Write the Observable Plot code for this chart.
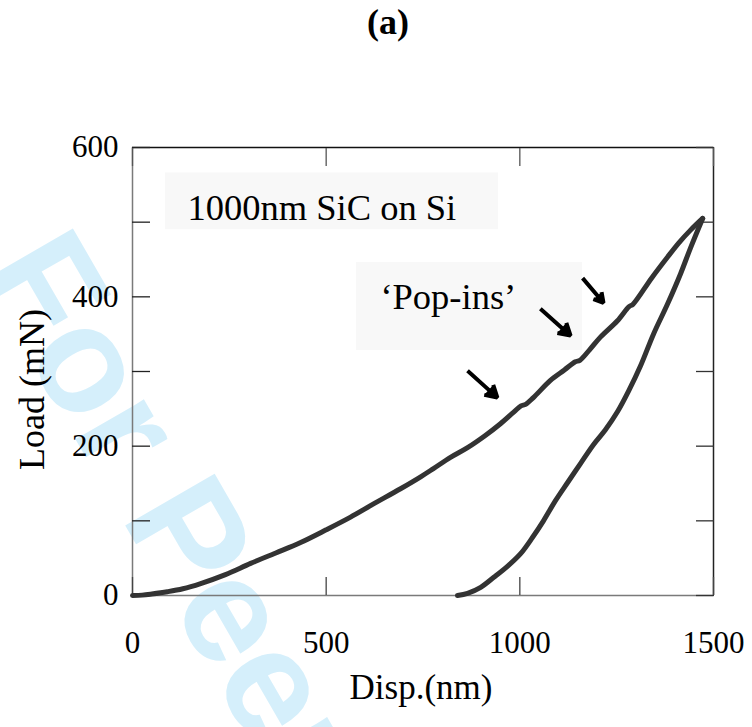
<!DOCTYPE html>
<html><head><meta charset="utf-8">
<script src="https://cdn.jsdelivr.net/npm/d3@7"></script>
<script src="https://cdn.jsdelivr.net/npm/@observablehq/plot@0.6"></script>
<style>
body{margin:0;background:#fff;}
#wrap{position:relative;width:752px;height:727px;overflow:hidden;}
#title{position:absolute;left:367px;top:4px;font:bold 36px "Liberation Serif","Times New Roman",serif;line-height:1;}
</style></head><body><div id="wrap"><div id="title">(a)</div></div>
<script>
// Loading branch (displacement nm, load mN)
const loadDisp = [0, 25, 50, 90, 130, 176, 240, 305, 370, 434, 500, 563, 620, 692, 744, 777, 821, 865, 910, 950, 985, 1003, 1015, 1035, 1079, 1115, 1143, 1155, 1180, 1208, 1252, 1282, 1292, 1340, 1381, 1410, 1440, 1472];
const loadLoad = [0, 0.5, 2, 5, 9, 16, 28, 43, 57, 71, 88, 105, 122, 143, 159, 170, 185, 198, 214, 230, 246, 254, 256, 265, 288, 302, 313, 315, 329, 346, 368, 387, 390, 425, 453, 472, 489, 505];
// Unloading branch
const unloadDisp = [1472, 1441, 1415, 1381, 1345, 1312, 1281, 1252, 1221, 1190, 1157, 1123, 1092, 1061, 1033, 1002, 968, 932, 899, 865, 839];
const unloadLoad = [505, 466, 431, 390, 350, 308, 274, 246, 222, 202, 177, 151, 127, 100, 78, 56, 39, 24, 11, 3, 0];
// Pop-in arrows
const arrowX1 = [865, 1053, 1162];
const arrowY1 = [301, 384, 425];
const arrowX2 = [942, 1131, 1216];
const arrowY2 = [265, 348, 392];
// Annotations
const noteText = ["1000nm SiC on Si", "\u2018Pop-ins\u2019"];
const noteX = [142, 640];
const noteY = [519, 400];
const boxX1 = [85, 578], boxX2 = [945, 1162], boxY1 = [490, 328], boxY2 = [566, 446];
// Ticks
const xTicks = [0, 500, 1000, 1500];
const yTicks = [0, 100, 200, 300, 400, 500, 600];
const yLabelTicks = [0, 200, 400, 600];
const xLabel = "Disp.(nm)";
const yLabel = "Load (mN)";
const watermark = "For Peer Review";

const FONT = '"Liberation Serif","Times New Roman",Times,serif';
const loading = loadDisp.map((d, i) => ({disp: d, load: loadLoad[i]}));
const unloading = unloadDisp.map((d, i) => ({disp: d, load: unloadLoad[i]}));
const arrows = arrowX1.map((d, i) => ({x1: d, y1: arrowY1[i], x2: arrowX2[i], y2: arrowY2[i]}));
const notes = noteText.map((t, i) => ({text: t, x: noteX[i], y: noteY[i]}));
const boxes = boxX1.map((d, i) => ({x1: d, x2: boxX2[i], y1: boxY1[i], y2: boxY2[i]}));

const chart = Plot.plot({
  width: 752, height: 727,
  marginLeft: 132, marginRight: 39, marginTop: 147, marginBottom: 132,
  x: {domain: [0, 1500], axis: null},
  y: {domain: [0, 600], axis: null},
  style: {fontFamily: FONT, background: "transparent", color: "black"},
  marks: [
    Plot.text([watermark], {frameAnchor: "top-left", dx: -154, dy: 124, rotate: 60, textAnchor: "start", lineAnchor: "bottom", fontSize: 150, fontWeight: "bold", fontFamily: "Liberation Sans, Arial, sans-serif", fill: "#d5effb"}),
    Plot.rect(boxes, {x1: "x1", x2: "x2", y1: "y1", y2: "y2", fill: "#f8f8f8"}),
    Plot.text(notes, {x: "x", y: "y", text: "text", textAnchor: "start", fontSize: 36.5, fill: "black"}),
    Plot.ruleX([0], {stroke: "#7a7a7a", strokeWidth: 1.5}),
    Plot.ruleX([1500], {stroke: "#222", strokeWidth: 1.5}),
    Plot.ruleY([0], {stroke: "#7a7a7a", strokeWidth: 1.5}),
    Plot.ruleY([600], {stroke: "#111", strokeWidth: 1.5}),
    Plot.axisY({anchor: "left", ticks: yTicks, tickSize: -18, tickFormat: () => "", label: null, stroke: "#222", strokeWidth: 1.3}),
    Plot.axisY({anchor: "right", ticks: yTicks, tickSize: -18, tickFormat: () => "", label: null, stroke: "#333", strokeWidth: 1.3}),
    Plot.axisX({anchor: "bottom", ticks: xTicks, tickSize: -18, tickFormat: () => "", label: null, stroke: "#444", strokeWidth: 1.3}),
    Plot.axisX({anchor: "top", ticks: xTicks, tickSize: -18, tickFormat: () => "", label: null, stroke: "#555", strokeWidth: 1.3}),
    Plot.axisY({anchor: "left", ticks: yLabelTicks, tickSize: 0, tickPadding: 14, tickFormat: "d", label: null, fontSize: 31}),
    Plot.axisX({anchor: "bottom", ticks: xTicks, tickSize: 0, tickPadding: 35, tickFormat: "d", label: null, fontSize: 31}),
    Plot.text([yLabel], {frameAnchor: "left", dx: -89, dy: 18, rotate: -90, textAnchor: "middle", lineAnchor: "bottom", fontSize: 36}),
    Plot.text([xLabel], {frameAnchor: "bottom", dx: -2, dy: 103, textAnchor: "middle", lineAnchor: "bottom", fontSize: 35}),
    Plot.line(loading, {x: "disp", y: "load", curve: "catmull-rom", stroke: "#333", strokeWidth: 5, strokeLinecap: "round", strokeLinejoin: "round"}),
    Plot.line(unloading, {x: "disp", y: "load", curve: "catmull-rom", stroke: "#333", strokeWidth: 5, strokeLinecap: "round", strokeLinejoin: "round"}),
    Plot.arrow(arrows, {x1: "x1", y1: "y1", x2: "x2", y2: "y2", stroke: "black", fill: "black", strokeWidth: 4, strokeLinecap: "butt", strokeLinejoin: "miter", headLength: 20, headAngle: 60})
  ]
});
d3.select(chart).selectAll('g[aria-label="arrow"] path').attr("fill", "black");
document.getElementById("wrap").prepend(chart);
chart.style.position = "absolute";
chart.style.left = "0";
chart.style.top = "0";
</script>
</body></html>
